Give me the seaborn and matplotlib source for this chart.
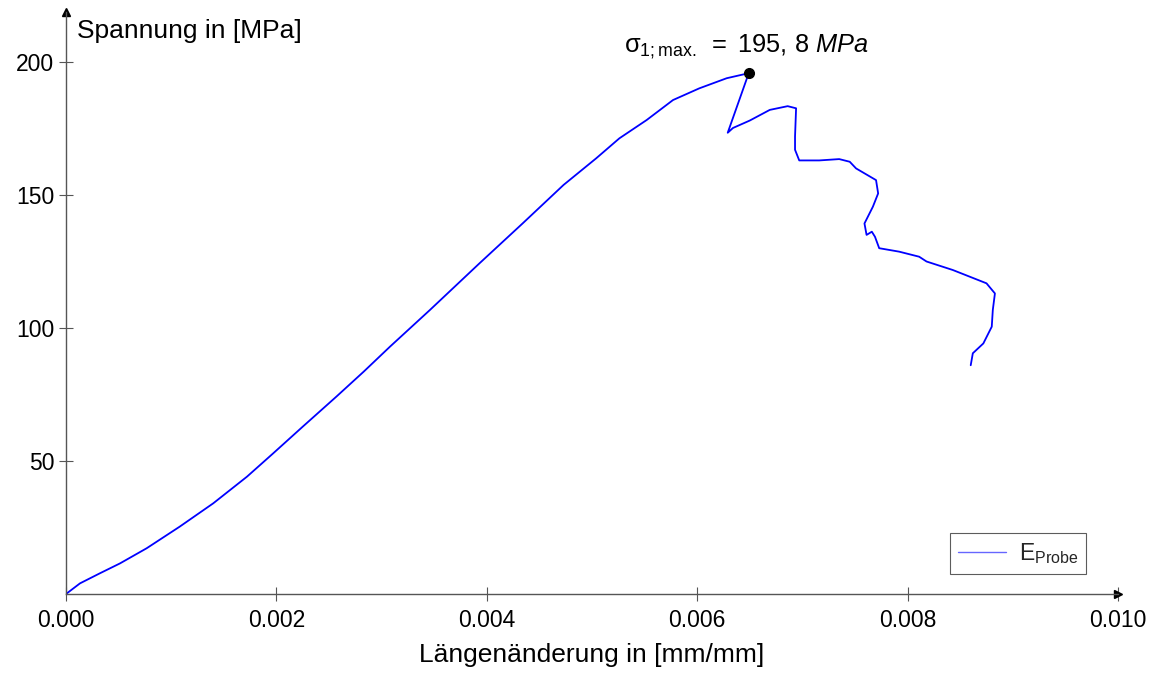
import matplotlib
matplotlib.use("Agg")
import matplotlib.pyplot as plt
import seaborn as sns
import pandas as pd

# Data
strain = [0.0, 0.000133, 0.000323, 0.000513, 0.000767, 0.00108, 0.0014, 0.00172, 0.00197,
          0.00225, 0.00257, 0.00283, 0.00308, 0.00346, 0.00393, 0.00434, 0.00473, 0.00504,
          0.00526, 0.00552, 0.00577, 0.00602, 0.00628, 0.00649,
          0.00629, 0.00634, 0.0065, 0.00669, 0.00686, 0.00694, 0.00693, 0.00693, 0.00697,
          0.00716, 0.00735, 0.00745, 0.00751, 0.0077, 0.00772, 0.00767, 0.00759, 0.00761,
          0.00766, 0.00769, 0.00773, 0.00792, 0.00811, 0.00818, 0.00843, 0.00875, 0.00883,
          0.00881, 0.0088, 0.00872, 0.00862, 0.0086]
stress = [0.0, 4.0, 7.8, 11.5, 17.2, 25.3, 34.1, 44.1, 52.9,
          62.9, 74.2, 83.6, 93.0, 106.8, 124.3, 139.3, 153.8, 163.8,
          171.3, 178.2, 185.7, 190.1, 193.9, 195.8,
          173.4, 175.2, 178.0, 182.0, 183.4, 182.6, 172.0, 167.0, 163.0,
          163.0, 163.5, 162.5, 160.0, 155.6, 150.6, 145.6, 139.3, 135.0,
          136.2, 134.3, 130.0, 128.7, 126.8, 125.0, 121.8, 116.8, 113.0,
          106.8, 100.5, 94.2, 90.5, 86.0]
peak_strain = 0.00649
peak_stress = 195.8
x_ticks = [0.000, 0.002, 0.004, 0.006, 0.008, 0.010]
y_ticks = [50, 100, 150, 200]

sns.set_theme(style="white")
plt.rcParams['font.family'] = ['Liberation Sans', 'DejaVu Sans']
plt.rcParams['mathtext.fontset'] = 'custom'
plt.rcParams['mathtext.rm'] = 'Liberation Sans'
plt.rcParams['mathtext.it'] = 'Liberation Sans:italic'
plt.rcParams['mathtext.sf'] = 'Liberation Sans'

fig = plt.figure(figsize=(11.57, 6.75), dpi=100)
ax = fig.add_axes([66/1157, 1-594/675, (1118-66)/1157, (594-12)/675])

df = pd.DataFrame({"strain": strain, "stress": stress})
sns.lineplot(data=df, x="strain", y="stress", sort=False, estimator=None,
             color="#0000ff", lw=1.3, ax=ax, label=r"$\mathrm{E}_{\mathrm{Probe}}$")
ax.plot([peak_strain], [peak_stress], "o", color="black", ms=7, zorder=5)
ax.text(0.00647, 205.8, r"$\mathrm{\sigma}_{\mathrm{1;max.}}\ =\ \mathrm{195,\,8}\ \mathit{MPa}$",
        ha="center", va="center", fontsize=18.3, color="black")

ax.set_xlim(0, 0.010)
ax.set_ylim(0, 218.8)
ax.set_xticks(x_ticks)
ax.set_xticklabels([f"{v:.3f}" for v in x_ticks])
ax.set_yticks(y_ticks)
ax.set_yticklabels([str(v) for v in y_ticks])

axis_col = "#555555"
for s in ["top", "right"]:
    ax.spines[s].set_visible(False)
for s in ["left", "bottom"]:
    ax.spines[s].set_color(axis_col)
    ax.spines[s].set_linewidth(1.0)
ax.tick_params(axis="both", which="major", direction="inout", length=10, width=0.8,
               color=axis_col, labelsize=16.5, labelcolor="black", bottom=True, left=True)
ax.tick_params(axis="x", pad=6)

# arrow heads on axes
ax.plot(1, 0, marker=">", color="black", ms=6, transform=ax.transAxes, clip_on=False)
ax.plot(0, 1, marker="^", color="black", ms=6, transform=ax.transAxes, clip_on=False)

ax.set_xlabel("Längenänderung in [mm/mm]", fontsize=19, color="black", labelpad=8)
ax.set_ylabel("")
fig.text(77/1157, 1-31/675, "Spannung in [MPa]", fontsize=19, ha="left", va="center", color="black")

leg = ax.legend(loc="lower right", bbox_to_anchor=((1086-66)/1052, (594-574)/582),
                borderaxespad=0.0,
                fontsize=16.5, frameon=True, fancybox=False, handlelength=2.1,
                borderpad=0.35, handletextpad=0.55)
leg.get_frame().set_edgecolor("#333333")
leg.get_frame().set_linewidth(0.8)
for h in leg.get_lines():
    h.set_linewidth(1.0)
    h.set_color("#6666ff")

ax.grid(False)
fig.savefig("out.png", dpi=100)
